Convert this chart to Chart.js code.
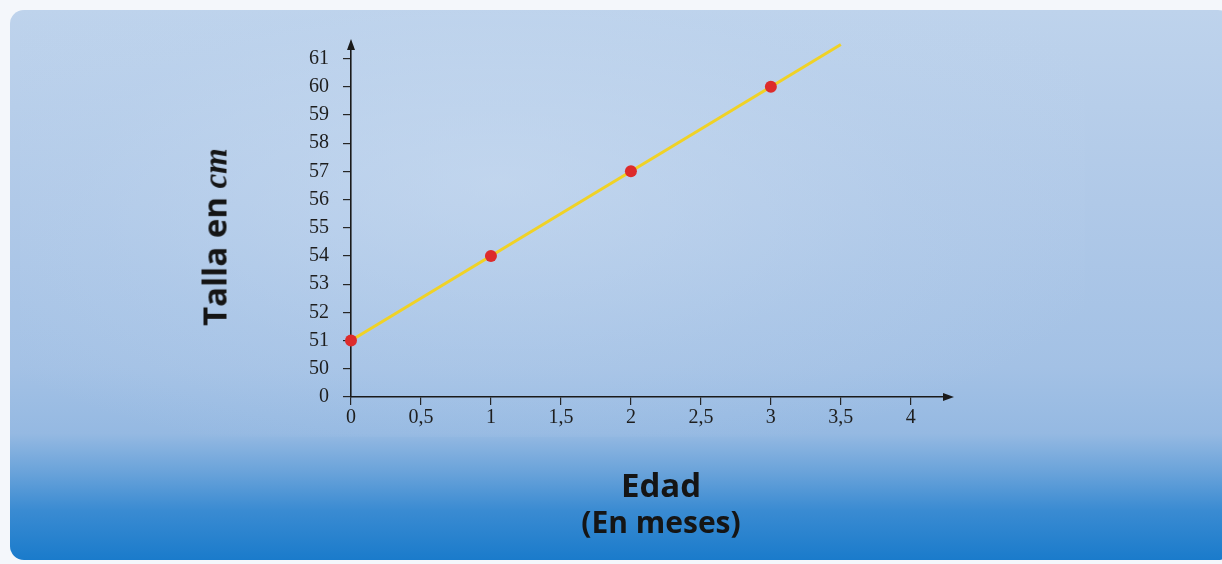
<!DOCTYPE html>
<html lang="es">
  <head>
    <meta charset="UTF-8" />
    <title>Talla vs Edad</title>
    <script src="https://cdn.jsdelivr.net/npm/chart.js"></script>
    <style>
      body {
        margin: 0;
        width: 1222px;
        height: 564px;
        background: #f4f7fb;
        overflow: hidden;
        position: relative;
        font-family: "Open Sans", "Noto Sans", Arial, sans-serif;
      }
      .panel {
        position: absolute;
        left: 10px;
        top: 10px;
        width: 1222px;
        height: 550px;
        border-radius: 14px;
        background: linear-gradient(
          to bottom,
          #bed3ec 0%,
          #b0c9e8 35%,
          #a3c1e5 65%,
          #95b9e2 77%,
          #6aa3da 84%,
          #3a8bd2 91%,
          #1a7bcb 100%
        );
      }
      .inner {
        position: absolute;
        left: 10px;
        top: 0;
        width: 1065px;
        height: 427px;
        background: radial-gradient(
          ellipse at 45% 40%,
          rgba(205, 222, 242, 0.55) 0%,
          rgba(190, 212, 238, 0.25) 50%,
          rgba(170, 200, 232, 0) 80%
        );
      }
      #wrap {
        position: absolute;
        left: 0;
        top: 0;
        width: 1222px;
        height: 564px;
      }
      .ytitle {
        position: absolute;
        left: 214px;
        top: 237px;
        transform: translate(-50%, -50%) rotate(-90deg);
        font-size: 33px;
        font-weight: 700;
        color: #151515;
        white-space: nowrap;
      }
      .ytitle i {
        font-style: italic;
        font-family: "Liberation Serif", serif;
        font-weight: 700;
      }
      .xtitle {
        position: absolute;
        left: 661px;
        top: 466px;
        transform: translateX(-50%);
        text-align: center;
        font-weight: 700;
        color: #151515;
        line-height: 37px;
        white-space: nowrap;
      }
      .xtitle .a { font-size: 33px; }
      .xtitle .b { font-size: 30px; }
    </style>
  </head>
  <body>
    <div class="panel"><div class="inner"></div></div>
    <div id="wrap"><canvas id="chart" width="1222" height="564"></canvas></div>
    <div class="ytitle">Talla en <i>cm</i></div>
    <div class="xtitle"><div class="a">Edad</div><div class="b">(En meses)</div></div>

    <script>
      // datos
      const edad = [0, 1, 2, 3];
      const talla = [51, 54, 57, 60];
      const lineaEdad = [0, 3.5];
      const lineaTalla = [51, 61.5];
      const xTicks = [0, 0.5, 1, 1.5, 2, 2.5, 3, 3.5, 4];
      const yTickLabels = [0, 50, 51, 52, 53, 54, 55, 56, 57, 58, 59, 60, 61];

      // eje Y cortado: 0 y luego 50..61 con igual separación
      function posY(v) {
        return v < 50 ? v / 50 : v - 49;
      }

      const arrows = {
        id: "arrows",
        afterDraw(chart) {
          const { ctx, chartArea } = chart;
          ctx.save();
          ctx.fillStyle = "#1a1a1a";
          // flecha eje X
          ctx.beginPath();
          ctx.moveTo(chartArea.right + 4, chartArea.bottom);
          ctx.lineTo(chartArea.right - 7, chartArea.bottom - 4);
          ctx.lineTo(chartArea.right - 7, chartArea.bottom + 4);
          ctx.closePath();
          ctx.fill();
          // flecha eje Y
          ctx.beginPath();
          ctx.moveTo(chartArea.left, chartArea.top - 4);
          ctx.lineTo(chartArea.left - 4, chartArea.top + 7);
          ctx.lineTo(chartArea.left + 4, chartArea.top + 7);
          ctx.closePath();
          ctx.fill();
          ctx.restore();
        },
      };

      const tickFont = { family: "'Liberation Serif', 'DejaVu Serif', serif", size: 20 };

      new Chart(document.getElementById("chart"), {
        type: "line",
        data: {
          datasets: [
            {
              data: lineaEdad.map((x, i) => ({ x: x, y: posY(lineaTalla[i]) })),
              borderColor: "#f0d226",
              borderWidth: 3,
              pointRadius: 0,
              fill: false,
              order: 2,
            },
            {
              data: edad.map((x, i) => ({ x: x, y: posY(talla[i]) })),
              showLine: false,
              pointRadius: 6,
              pointBackgroundColor: "#dd2b2b",
              pointBorderColor: "#dd2b2b",
              pointBorderWidth: 0,
              clip: false,
              order: 1,
            },
          ],
        },
        options: {
          responsive: false,
          animation: false,
          events: [],
          layout: { padding: { top: 43, right: 272, left: 0, bottom: 0 } },
          plugins: { legend: { display: false }, tooltip: { enabled: false } },
          scales: {
            x: {
              type: "linear",
              min: 0,
              max: 4.28,
              afterFit(scale) {
                scale.height = 167;
              },
              afterBuildTicks(scale) {
                scale.ticks = xTicks.map((v) => ({ value: v }));
              },
              ticks: {
                color: "#1e1e1e",
                font: tickFont,
                padding: 1,
                maxRotation: 0,
                callback: (v) => String(v).replace(".", ","),
              },
              grid: {
                drawOnChartArea: false,
                drawTicks: true,
                tickLength: 8,
                color: "#262626",
                lineWidth: 1.2,
              },
              border: { display: true, color: "#1a1a1a", width: 1.6 },
            },
            y: {
              type: "linear",
              min: 0,
              max: 12.55,
              afterFit(scale) {
                scale.width = 351;
              },
              afterBuildTicks(scale) {
                scale.ticks = yTickLabels.map((v, i) => ({ value: i }));
              },
              ticks: {
                color: "#1e1e1e",
                font: tickFont,
                padding: 14,
                callback: (v) => yTickLabels[v],
              },
              grid: {
                drawOnChartArea: false,
                drawTicks: true,
                tickLength: 8,
                color: "#262626",
                lineWidth: 1.2,
              },
              border: { display: true, color: "#1a1a1a", width: 1.6 },
            },
          },
        },
        plugins: [arrows],
      });
    </script>
  </body>
</html>
